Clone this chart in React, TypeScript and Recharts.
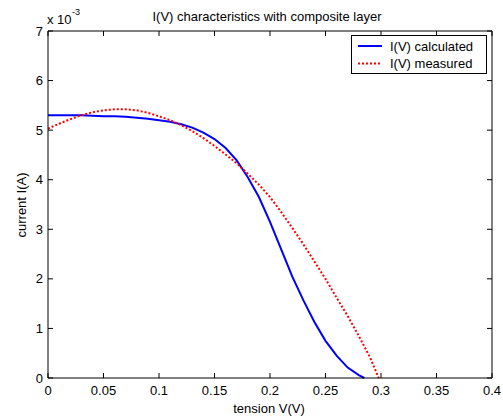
import { LineChart, Line, XAxis, YAxis, ReferenceLine } from 'recharts';

// tension V (V) and current I (x 1e-3 A)
const V_CALC = [
  0, 0.01, 0.02, 0.03, 0.04, 0.05, 0.06, 0.07, 0.08, 0.09, 0.1, 0.11, 0.12, 0.13, 0.14,
  0.15, 0.16, 0.17, 0.18, 0.19, 0.2, 0.21, 0.22, 0.23, 0.24, 0.25, 0.26, 0.27, 0.28, 0.285,
];
const I_CALC = [
  5.3, 5.3, 5.3, 5.3, 5.29, 5.28, 5.28, 5.27, 5.25, 5.23, 5.2, 5.17, 5.12, 5.05, 4.95,
  4.82, 4.64, 4.39, 4.05, 3.65, 3.15, 2.6, 2.05, 1.57, 1.13, 0.75, 0.45, 0.21, 0.06, 0,
];

const V_MEAS = [
  0, 0.01, 0.02, 0.03, 0.04, 0.05, 0.06, 0.07, 0.08, 0.09, 0.1, 0.11, 0.12, 0.13, 0.14,
  0.15, 0.16, 0.17, 0.18, 0.19, 0.2, 0.21, 0.22, 0.23, 0.24, 0.25, 0.26, 0.27, 0.28, 0.29, 0.298,
];
const I_MEAS = [
  5.03, 5.13, 5.22, 5.3, 5.36, 5.4, 5.42, 5.42, 5.4, 5.35, 5.28, 5.2, 5.1, 4.98, 4.84,
  4.68, 4.51, 4.33, 4.12, 3.9, 3.65, 3.35, 3.03, 2.7, 2.35, 2.0, 1.62, 1.25, 0.85, 0.42, 0,
];

const SERIES_NAMES = ['I(V) calculated', 'I(V) measured'];
const X_TICKS = [0, 0.05, 0.1, 0.15, 0.2, 0.25, 0.3, 0.35, 0.4];
const Y_TICKS = [0, 1, 2, 3, 4, 5, 6, 7];
const X_MAX = 0.4;
const Y_MAX = 7;

const calcData = V_CALC.map((v, i) => ({ v, i: I_CALC[i] }));
const measData = V_MEAS.map((v, i) => ({ v, i: I_MEAS[i] }));

const FONT = '"Liberation Sans", Arial, sans-serif';
// inward tick length, ~5px expressed in axis units
const TICK_DX = 0.0045;
const TICK_DY = 0.1;

const bottomLabel = ({ x, y, payload }: any) => (
  <text x={x} y={y + 8} dy="0.71em" textAnchor="middle" fill="#000" fontSize={13} fontFamily={FONT}>
    {payload.value}
  </text>
);
const leftLabel = ({ x, y, payload }: any) => (
  <text x={x - 5} y={y} dy="0.355em" textAnchor="end" fill="#000" fontSize={13} fontFamily={FONT}>
    {payload.value}
  </text>
);

const tickProps = { xAxisId: 'b', yAxisId: 'l', stroke: '#000', strokeWidth: 1, ifOverflow: 'visible' as const };

export default function App() {
  return (
    <div style={{ position: 'absolute', left: 0, top: 0, width: 503, height: 417, background: '#fff' }}>
      <LineChart width={503} height={417} margin={{ top: 30, right: 10, bottom: 0, left: 0 }}>
        <XAxis
          xAxisId="b"
          type="number"
          dataKey="v"
          domain={[0, X_MAX]}
          ticks={X_TICKS}
          height={39}
          tickSize={0}
          tickMargin={0}
          axisLine={{ stroke: '#000' }}
          tickLine={false}
          tick={bottomLabel}
        />
        <XAxis
          xAxisId="t"
          orientation="top"
          type="number"
          dataKey="v"
          domain={[0, X_MAX]}
          ticks={X_TICKS}
          height={1}
          axisLine={{ stroke: '#000' }}
          tickLine={false}
          tick={false}
        />
        <YAxis
          yAxisId="l"
          type="number"
          domain={[0, Y_MAX]}
          ticks={Y_TICKS}
          width={48}
          tickSize={0}
          tickMargin={0}
          axisLine={{ stroke: '#000' }}
          tickLine={false}
          tick={leftLabel}
        />
        <YAxis
          yAxisId="r"
          orientation="right"
          type="number"
          domain={[0, Y_MAX]}
          ticks={Y_TICKS}
          width={1}
          axisLine={{ stroke: '#000' }}
          tickLine={false}
          tick={false}
        />

        {/* inward tick marks on all four sides */}
        {X_TICKS.map((v) => (
          <ReferenceLine key={`xb-${v}`} {...tickProps} segment={[{ x: v, y: 0 }, { x: v, y: TICK_DY }]} />
        ))}
        {X_TICKS.map((v) => (
          <ReferenceLine key={`xt-${v}`} {...tickProps} segment={[{ x: v, y: Y_MAX }, { x: v, y: Y_MAX - TICK_DY }]} />
        ))}
        {Y_TICKS.map((t) => (
          <ReferenceLine key={`yl-${t}`} {...tickProps} segment={[{ x: 0, y: t }, { x: TICK_DX, y: t }]} />
        ))}
        {Y_TICKS.map((t) => (
          <ReferenceLine key={`yr-${t}`} {...tickProps} segment={[{ x: X_MAX, y: t }, { x: X_MAX - TICK_DX, y: t }]} />
        ))}

        <Line
          xAxisId="b"
          yAxisId="l"
          data={calcData}
          dataKey="i"
          name={SERIES_NAMES[0]}
          type="linear"
          stroke="#0000ff"
          strokeWidth={2}
          dot={false}
          isAnimationActive={false}
        />
        <Line
          xAxisId="b"
          yAxisId="l"
          data={measData}
          dataKey="i"
          name={SERIES_NAMES[1]}
          type="linear"
          stroke="#ff0000"
          strokeWidth={2}
          strokeDasharray="2 2"
          dot={false}
          isAnimationActive={false}
        />
      </LineChart>

      <svg
        width={503}
        height={417}
        style={{ position: 'absolute', left: 0, top: 0, pointerEvents: 'none' }}
        fontFamily={FONT}
        fontSize={13}
      >
        <text x={267} y={21} textAnchor="middle">I(V) characteristics with composite layer</text>
        <text x={47} y={24}>x 10</text>
        <text x={72} y={15} fontSize={9}>-3</text>
        <text x={26} y={205} textAnchor="middle" transform="rotate(-90 26 205)">current I(A)</text>
        <text x={269} y={413} textAnchor="middle">tension V(V)</text>

        <rect x={351.5} y={35.5} width={135} height={38} fill="#fff" stroke="#000" />
        <line x1={358} x2={382} y1={46} y2={46} stroke="#0000ff" strokeWidth={2} />
        <text x={390} y={50.5}>{SERIES_NAMES[0]}</text>
        <line x1={358} x2={382} y1={63.5} y2={63.5} stroke="#ff0000" strokeWidth={2} strokeDasharray="2 2" />
        <text x={390} y={68}>{SERIES_NAMES[1]}</text>
      </svg>
    </div>
  );
}
